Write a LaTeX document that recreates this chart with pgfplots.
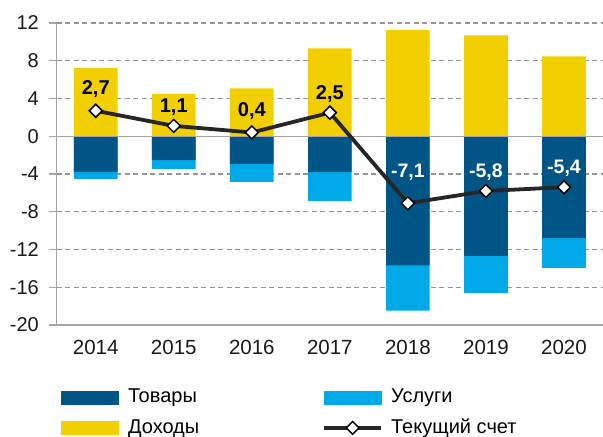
\documentclass[border=0pt]{standalone}
\usepackage{pgfplots}
\pgfplotsset{compat=1.18}
\usepackage{pgfplotstable}
\usepackage{fontspec}
\setmainfont{Liberation Sans}
\definecolor{goods}{RGB}{0,85,135}
\definecolor{services}{RGB}{0,170,232}
\definecolor{income}{RGB}{242,207,0}
\definecolor{cline}{RGB}{38,38,38}
\definecolor{gridc}{RGB}{150,150,150}
\definecolor{axc}{RGB}{165,165,165}

\pgfplotstableread{
x goods services income ca
0 -3.81 -0.71 7.23 2.7
1 -2.54 -0.92 4.48 1.1
2 -2.93 -1.91 5.08 0.4
3 -3.81 -3.04 9.32 2.5
4 -13.67 -4.80 11.26 -7.1
5 -12.68 -3.92 10.70 -5.8
6 -10.80 -3.15 8.47 -5.4
}\data

\pgfplotstableread{
x ly lab
0 5.00 2,7
1 3.10 1,1
2 2.70 0,4
3 4.50 2,5
}\poslab

\pgfplotstableread{
x ly lab
4 -3.80 -7,1
5 -3.80 -5,8
6 -3.40 -5,4
}\neglab

\begin{document}
\fontsize{20bp}{23bp}\selectfont
\begin{tikzpicture}
\begin{axis}[
  width=546.3bp, height=302bp, scale only axis,
  xmin=-0.5, xmax=6.5, ymin=-20, ymax=12,
  axis lines*=left,
  axis line style={axc, line width=1.5bp},
  xtick={0,...,6},
  xticklabels={2014,2015,2016,2017,2018,2019,2020},
  ytick={-20,-16,-12,-8,-4,0,4,8,12},
  yticklabels={-20,-16,-12,-8,-4,0,4,8,12},
  tick align=outside,
  major tick length=8bp,
  ytick style={axc, line width=1.2bp},
  xtick style={draw=none},
  ymajorgrids,
  grid style={gridc, line width=1.2bp, dash pattern=on 5bp off 3.5bp},
  yticklabel style={font=\fontsize{20bp}{23bp}\selectfont, text=black!90, xshift=-3bp},
  xticklabel style={font=\fontsize{20.5bp}{23bp}\selectfont, text=black!90},
  legend columns=2,
  legend cell align=left,
  legend style={at={(rel axis cs:0,0)}, anchor=north west, xshift=1bp, yshift=-60bp,
    draw=none, fill=none, font=\fontsize{20bp}{23bp}\selectfont,
    row sep=9bp,
    /tikz/every even column/.append style={column sep=121bp}},
]
\addlegendimage{legend image code/.code={\fill[goods] (0bp,-6.7bp) rectangle (57bp,6.7bp); \path[draw=none,fill=none] (0bp,0bp) rectangle (65bp,0bp);}}
\addlegendentry{Товары}
\addlegendimage{legend image code/.code={\fill[services] (0bp,-6.7bp) rectangle (57bp,6.7bp); \path[draw=none,fill=none] (0bp,0bp) rectangle (65bp,0bp);}}
\addlegendentry{Услуги}
\addlegendimage{legend image code/.code={\fill[income] (0bp,-6.7bp) rectangle (57bp,6.7bp); \path[draw=none,fill=none] (0bp,0bp) rectangle (65bp,0bp);}}
\addlegendentry{Доходы}
\addlegendimage{legend image code/.code={\draw[cline, line width=3.8bp] (0bp,0bp) -- (57bp,0bp);
  \draw[black, fill=white, line width=1.5bp, rotate around={45:(28.5bp,0bp)}] (24bp,-4.5bp) rectangle (33bp,4.5bp); \path[draw=none,fill=none] (0bp,0bp) rectangle (65bp,0bp);}}
\addlegendentry{Текущий счет}

\addplot[ybar, bar width=0.56, bar shift=0pt, fill=services, draw=none, forget plot]
  table[x=x, y expr=\thisrow{goods}+\thisrow{services}] {\data};
\addplot[ybar, bar width=0.56, bar shift=0pt, fill=goods, draw=none, forget plot]
  table[x=x, y=goods] {\data};
\addplot[ybar, bar width=0.56, bar shift=0pt, fill=income, draw=none, forget plot]
  table[x=x, y=income] {\data};
\draw[axc, line width=1.5bp] (axis cs:-0.5,0) -- (axis cs:6.5,0);
\addplot[cline, line width=3.8bp, mark=square*, mark size=4.6bp,
  mark options={rotate=45, fill=white, draw=black, line width=1.5bp, solid}, forget plot]
  table[x=x, y=ca] {\data};
\addplot[draw=none, mark=none, forget plot, nodes near coords, point meta=explicit symbolic,
  nodes near coords align=center,
  nodes near coords style={anchor=center, text=black, font=\fontsize{20bp}{23bp}\selectfont\bfseries}]
  table[x=x, y=ly, meta=lab] {\poslab};
\addplot[draw=none, mark=none, forget plot, nodes near coords, point meta=explicit symbolic,
  nodes near coords align=center,
  nodes near coords style={anchor=center, text=white, font=\fontsize{19.5bp}{23bp}\selectfont\bfseries}]
  table[x=x, y=ly, meta=lab] {\neglab};
\coordinate (bl) at (rel axis cs:0,0);
\coordinate (tr) at (rel axis cs:1,1);
\end{axis}
\pgfresetboundingbox
\path[use as bounding box] ([shift={(-56.7bp,-111.7bp)}]bl) rectangle ([shift={(0bp,23bp)}]tr);
\end{tikzpicture}
\end{document}
